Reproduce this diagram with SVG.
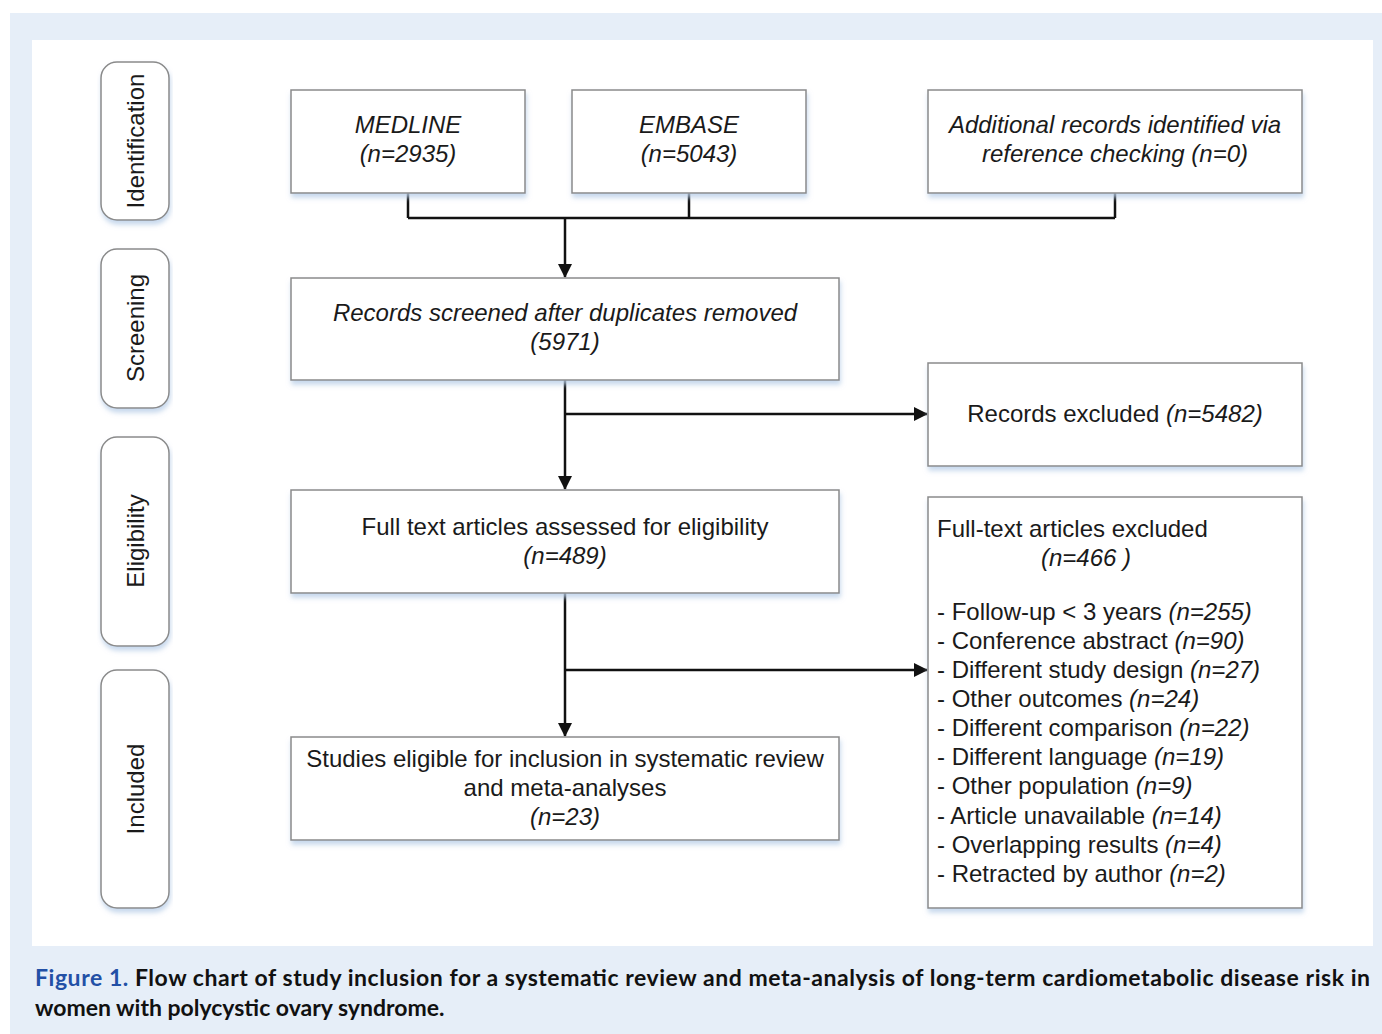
<svg xmlns="http://www.w3.org/2000/svg" width="1382" height="1034" viewBox="0 0 1382 1034">
<defs>
<style>
.t{font-family:"Liberation Sans",Arial,sans-serif;font-size:24px;fill:#1a1a1a}
.i{font-style:italic}
.box{fill:#fff;stroke:#8a8a8a;stroke-width:1.5}
.ph{fill:#fff;stroke:#8a8a8a;stroke-width:1.5}
.ln{fill:none;stroke:#111;stroke-width:2.5}
.cap{font-family:Lato,"Open Sans",sans-serif;font-size:23px;font-weight:bold;fill:#111}
</style>
<filter id="sh" x="-5%" y="-5%" width="110%" height="125%">
<feDropShadow dx="1" dy="4" stdDeviation="2.5" flood-color="#b9cfe8" flood-opacity="0.8"/>
</filter>
<marker id="ah" markerWidth="14" markerHeight="14" refX="13" refY="7" orient="auto" markerUnits="userSpaceOnUse">
<path d="M0,0 L14,7 L0,14 Z" fill="#111"/>
</marker>
</defs>
<rect x="0" y="0" width="1382" height="1034" fill="#fff"/>
<rect x="10" y="13" width="1372" height="1021" fill="#e6eef8"/>
<rect x="32" y="40" width="1341" height="906" fill="#fff"/>

<g id="phase-identification"><rect class="ph" x="101" y="62" width="68" height="158" rx="16" filter="url(#sh)"/><text class="t" text-anchor="middle" transform="translate(144,141) rotate(-90)">Identification</text></g>
<g id="phase-screening"><rect class="ph" x="101" y="249" width="68" height="159" rx="16" filter="url(#sh)"/><text class="t" text-anchor="middle" transform="translate(144,328) rotate(-90)">Screening</text></g>
<g id="phase-eligibility"><rect class="ph" x="101" y="437" width="68" height="209" rx="16" filter="url(#sh)"/><text class="t" text-anchor="middle" transform="translate(144,541) rotate(-90)">Eligibility</text></g>
<g id="phase-included"><rect class="ph" x="101" y="670" width="68" height="238" rx="16" filter="url(#sh)"/><text class="t" text-anchor="middle" transform="translate(144,789) rotate(-90)">Included</text></g>

<g id="connectors">
<path class="ln" d="M408,193 V218 M689,193 V218 M1115,193 V218 M408,218 H1115"/>
<path class="ln" d="M565,218 V277" marker-end="url(#ah)"/>
<path class="ln" d="M565,380 V489" marker-end="url(#ah)"/>
<path class="ln" d="M565,414 H927" marker-end="url(#ah)"/>
<path class="ln" d="M565,593 V736" marker-end="url(#ah)"/>
<path class="ln" d="M565,670 H927" marker-end="url(#ah)"/>
</g>

<g id="medline"><rect class="box" x="291" y="90" width="234" height="103" filter="url(#sh)"/>
<text class="t i" text-anchor="middle" x="408" y="133">MEDLINE</text>
<text class="t i" text-anchor="middle" x="408" y="162">(n=2935)</text></g>

<g id="embase"><rect class="box" x="572" y="90" width="234" height="103" filter="url(#sh)"/>
<text class="t i" text-anchor="middle" x="689" y="133">EMBASE</text>
<text class="t i" text-anchor="middle" x="689" y="162">(n=5043)</text></g>

<g id="additional"><rect class="box" x="928" y="90" width="374" height="103" filter="url(#sh)"/>
<text class="t i" text-anchor="middle" x="1115" y="133">Additional records identified via</text>
<text class="t i" text-anchor="middle" x="1115" y="162">reference checking (n=0)</text></g>

<g id="screened"><rect class="box" x="291" y="278" width="548" height="102" filter="url(#sh)"/>
<text class="t i" text-anchor="middle" x="565" y="321">Records screened after duplicates removed</text>
<text class="t i" text-anchor="middle" x="565" y="350">(5971)</text></g>

<g id="records-excluded"><rect class="box" x="928" y="363" width="374" height="103" filter="url(#sh)"/>
<text class="t" text-anchor="middle" x="1115" y="422">Records excluded <tspan class="i">(n=5482)</tspan></text></g>

<g id="fulltext"><rect class="box" x="291" y="490" width="548" height="103" filter="url(#sh)"/>
<text class="t" text-anchor="middle" x="565" y="535">Full text articles assessed for eligibility</text>
<text class="t i" text-anchor="middle" x="565" y="564">(n=489)</text></g>

<g id="fulltext-excluded"><rect class="box" x="928" y="497" width="374" height="411" filter="url(#sh)"/>
<text class="t" x="937" y="537">Full-text articles excluded</text>
<text class="t i" x="1041" y="566">(n=466 )</text>
<text class="t" x="937" y="620">- Follow-up &lt; 3 years <tspan class="i">(n=255)</tspan></text>
<text class="t" x="937" y="649">- Conference abstract <tspan class="i">(n=90)</tspan></text>
<text class="t" x="937" y="678">- Different study design <tspan class="i">(n=27)</tspan></text>
<text class="t" x="937" y="707">- Other outcomes <tspan class="i">(n=24)</tspan></text>
<text class="t" x="937" y="736">- Different comparison <tspan class="i">(n=22)</tspan></text>
<text class="t" x="937" y="765">- Different language <tspan class="i">(n=19)</tspan></text>
<text class="t" x="937" y="794">- Other population <tspan class="i">(n=9)</tspan></text>
<text class="t" x="937" y="824">- Article unavailable <tspan class="i">(n=14)</tspan></text>
<text class="t" x="937" y="853">- Overlapping results <tspan class="i">(n=4)</tspan></text>
<text class="t" x="937" y="882">- Retracted by author <tspan class="i">(n=2)</tspan></text></g>

<g id="included"><rect class="box" x="291" y="737" width="548" height="103" filter="url(#sh)"/>
<text class="t" text-anchor="middle" x="565" y="767">Studies eligible for inclusion in systematic review</text>
<text class="t" text-anchor="middle" x="565" y="796">and meta-analyses</text>
<text class="t i" text-anchor="middle" x="565" y="825">(n=23)</text></g>

<g id="caption">
<text class="cap" x="35" y="986" textLength="1335" lengthAdjust="spacing"><tspan fill="#2250a6">Figure 1.</tspan> Flow chart of study inclusion for a systematic review and meta-analysis of long-term cardiometabolic disease risk in</text>
<text class="cap" x="35" y="1016">women with polycystic ovary syndrome.</text>
</g>
</svg>
